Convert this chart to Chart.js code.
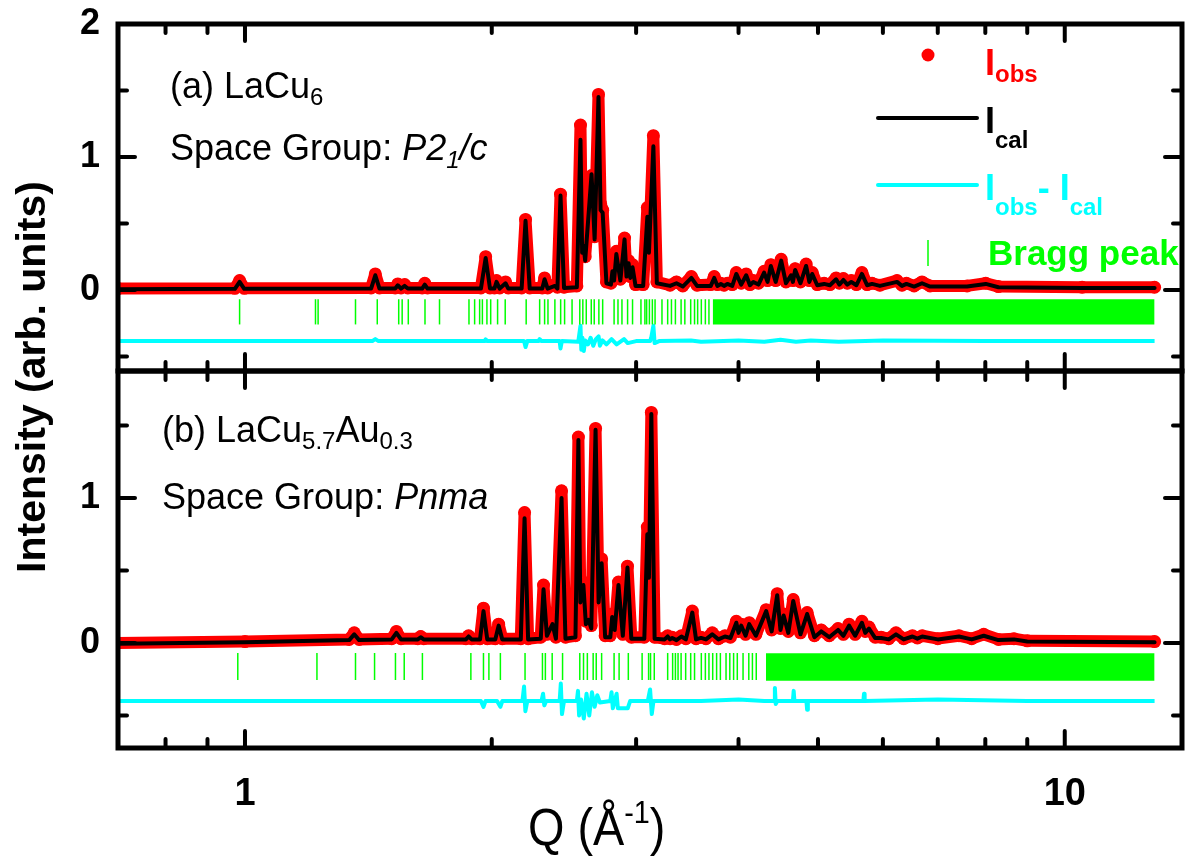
<!DOCTYPE html>
<html>
<head>
<meta charset="utf-8">
<script src="https://cdn.jsdelivr.net/npm/chart.js@4.4.1/dist/chart.umd.min.js"></script>
<style>
html, body { margin: 0; padding: 0; background: #fff; }
#wrap { position: relative; width: 1189px; height: 856px; }
canvas { position: absolute; left: 0; top: 0; }
</style>
</head>
<body>
<div id="wrap">
  <canvas id="G1" width="1189" height="856"></canvas>
  <canvas id="G2" width="1189" height="856"></canvas>
</div>
<script>
// profile points: [Q, Iobs, Ical]
var perfilA = [
  [0.70, 0.01, 0.005], [0.972, 0.012, 0.008], [0.985, 0.07, 0.06], [0.998, 0.012, 0.008],
  [1.425, 0.015, 0.01], [1.442, 0.12, 0.11], [1.459, 0.015, 0.01],
  [1.525, 0.015, 0.01], [1.536, 0.045, 0.035], [1.55, 0.015, 0.01], [1.566, 0.04, 0.03], [1.58, 0.015, 0.01],
  [1.645, 0.015, 0.01], [1.657, 0.05, 0.04], [1.67, 0.015, 0.01],
  [1.94, 0.015, 0.01], [1.966, 0.25, 0.24], [1.99, 0.015, 0.01],
  [2.015, 0.015, 0.01], [2.027, 0.07, 0.06], [2.045, 0.015, 0.01], [2.079, 0.06, 0.05], [2.095, 0.015, 0.01],
  [2.175, 0.015, 0.01], [2.199, 0.53, 0.52], [2.225, 0.015, 0.01],
  [2.305, 0.015, 0.01], [2.320, 0.09, 0.08], [2.34, 0.015, 0.01], [2.388, 0.04, 0.03], [2.405, 0.02, 0.01],
  [2.426, 0.72, 0.71], [2.45, 0.02, 0.015],
  [2.54, 0.03, 0.02], [2.566, 1.24, 1.13], [2.578, 0.3, 0.28], [2.589, 0.35, 0.33], [2.60, 0.25, 0.22],
  [2.647, 0.86, 0.87], [2.67, 0.4, 0.38], [2.699, 1.47, 1.45], [2.715, 0.65, 0.6], [2.731, 0.6, 0.58], [2.76, 0.06, 0.05],
  [2.795, 0.05, 0.04], [2.807, 0.15, 0.14], [2.82, 0.08, 0.07], [2.838, 0.29, 0.27], [2.87, 0.08, 0.07],
  [2.904, 0.39, 0.38], [2.92, 0.12, 0.1], [2.937, 0.22, 0.2], [2.952, 0.1, 0.09], [2.970, 0.19, 0.17], [2.995, 0.04, 0.03],
  [3.06, 0.04, 0.03], [3.096, 0.62, 0.55], [3.11, 0.3, 0.28], [3.149, 1.16, 1.08], [3.18, 0.06, 0.05],
  [3.30, 0.035, 0.03], [3.36, 0.06, 0.05], [3.42, 0.03, 0.025], [3.504, 0.10, 0.09], [3.56, 0.035, 0.03],
  [3.70, 0.04, 0.03], [3.736, 0.10, 0.09], [3.77, 0.04, 0.03], [3.806, 0.05, 0.045], [3.84, 0.035, 0.03], [3.876, 0.05, 0.045], [3.93, 0.04, 0.03],
  [3.975, 0.13, 0.12], [4.03, 0.05, 0.04], [4.087, 0.12, 0.11], [4.13, 0.04, 0.035], [4.17, 0.07, 0.06], [4.23, 0.05, 0.04],
  [4.298, 0.14, 0.13], [4.34, 0.07, 0.06], [4.38, 0.19, 0.18], [4.44, 0.07, 0.06], [4.509, 0.23, 0.22], [4.57, 0.06, 0.05],
  [4.636, 0.12, 0.11], [4.66, 0.07, 0.06], [4.69, 0.16, 0.15], [4.76, 0.06, 0.05], [4.836, 0.195, 0.18], [4.88, 0.07, 0.06], [4.92, 0.13, 0.12], [4.99, 0.04, 0.035],
  [5.087, 0.05, 0.045], [5.17, 0.04, 0.035], [5.261, 0.09, 0.08], [5.31, 0.05, 0.04], [5.37, 0.085, 0.075], [5.43, 0.05, 0.04], [5.49, 0.07, 0.06], [5.57, 0.04, 0.035],
  [5.657, 0.13, 0.12], [5.74, 0.04, 0.035], [5.82, 0.05, 0.045], [5.95, 0.035, 0.03],
  [6.243, 0.07, 0.06], [6.33, 0.035, 0.03], [6.41, 0.05, 0.045], [6.55, 0.03, 0.025], [6.697, 0.06, 0.05], [6.85, 0.03, 0.025],
  [7.6, 0.03, 0.025], [8.01, 0.05, 0.045], [8.3, 0.025, 0.02], [10.5, 0.02, 0.015], [12.87, 0.02, 0.015]
];
var perfilB = [
  [0.70, 0.0, -0.005], [1.0, 0.01, 0.005], [1.34, 0.025, 0.02], [1.359, 0.07, 0.06], [1.378, 0.025, 0.02],
  [1.51, 0.03, 0.025], [1.530, 0.08, 0.07], [1.55, 0.03, 0.025], [1.625, 0.03, 0.025], [1.638, 0.045, 0.04], [1.652, 0.03, 0.025],
  [1.86, 0.03, 0.025], [1.874, 0.05, 0.045], [1.89, 0.03, 0.025],
  [1.935, 0.03, 0.025], [1.954, 0.24, 0.22], [1.975, 0.03, 0.025],
  [2.02, 0.03, 0.025], [2.039, 0.13, 0.12], [2.06, 0.03, 0.025],
  [2.17, 0.03, 0.025], [2.193, 0.90, 0.86], [2.215, 0.03, 0.025],
  [2.295, 0.04, 0.03], [2.313, 0.40, 0.37], [2.335, 0.06, 0.05], [2.372, 0.15, 0.13], [2.395, 0.04, 0.03],
  [2.433, 1.05, 1.0], [2.46, 0.04, 0.03],
  [2.53, 0.05, 0.04], [2.551, 1.42, 1.40], [2.565, 0.3, 0.28], [2.587, 0.42, 0.40], [2.605, 0.15, 0.13], [2.625, 0.18, 0.16], [2.645, 0.12, 0.1],
  [2.677, 1.48, 1.47], [2.70, 0.3, 0.28], [2.723, 0.58, 0.55], [2.75, 0.05, 0.04],
  [2.79, 0.05, 0.04], [2.805, 0.2, 0.18], [2.825, 0.1, 0.09], [2.855, 0.42, 0.40], [2.89, 0.06, 0.05], [2.928, 0.53, 0.52], [2.96, 0.04, 0.03],
  [3.07, 0.04, 0.03], [3.096, 0.8, 0.75], [3.11, 0.5, 0.45], [3.131, 1.59, 1.58], [3.16, 0.04, 0.03],
  [3.25, 0.03, 0.025], [3.278, 0.05, 0.045], [3.30, 0.03, 0.025], [3.32, 0.04, 0.035], [3.36, 0.025, 0.02], [3.407, 0.05, 0.045], [3.45, 0.03, 0.025],
  [3.513, 0.22, 0.21], [3.55, 0.03, 0.025], [3.60, 0.04, 0.035], [3.65, 0.03, 0.025], [3.715, 0.07, 0.06], [3.78, 0.03, 0.025], [3.85, 0.05, 0.045], [3.91, 0.04, 0.035],
  [3.975, 0.15, 0.14], [4.0, 0.08, 0.07], [4.03, 0.13, 0.12], [4.08, 0.06, 0.05], [4.122, 0.14, 0.13], [4.2, 0.06, 0.05],
  [4.323, 0.23, 0.22], [4.39, 0.09, 0.08], [4.459, 0.34, 0.33], [4.50, 0.1, 0.09], [4.54, 0.2, 0.19], [4.60, 0.08, 0.07], [4.664, 0.30, 0.29], [4.76, 0.07, 0.06], [4.850, 0.21, 0.2], [4.95, 0.05, 0.04],
  [5.045, 0.09, 0.08], [5.16, 0.05, 0.04], [5.290, 0.10, 0.09], [5.37, 0.06, 0.05], [5.456, 0.13, 0.12], [5.55, 0.06, 0.05], [5.657, 0.15, 0.14], [5.71, 0.08, 0.07], [5.77, 0.11, 0.1], [5.87, 0.04, 0.035], [5.97, 0.04, 0.035],
  [6.1, 0.03, 0.025], [6.225, 0.07, 0.06], [6.36, 0.03, 0.025], [6.52, 0.05, 0.045], [6.61, 0.035, 0.03], [6.70, 0.05, 0.045], [7.0, 0.03, 0.025],
  [7.43, 0.05, 0.045], [7.7, 0.03, 0.025], [7.965, 0.06, 0.05], [8.3, 0.025, 0.02], [8.67, 0.03, 0.025], [9.0, 0.015, 0.01], [12.87, 0.01, 0.005]
];

// Iobs - Ical, already shifted down as plotted: [Q, value]
var difA = [
  [0.70, -0.385], [1.43, -0.385], [1.442, -0.37], [1.455, -0.385],
  [1.96, -0.385], [1.966, -0.372], [1.975, -0.385],
  [2.19, -0.385], [2.199, -0.43], [2.21, -0.385], [2.28, -0.385], [2.288, -0.37], [2.30, -0.385],
  [2.42, -0.385], [2.426, -0.44], [2.435, -0.385],
  [2.55, -0.39], [2.566, -0.27], [2.572, -0.45], [2.58, -0.36], [2.59, -0.46], [2.60, -0.38], [2.62, -0.41], [2.64, -0.36],
  [2.66, -0.42], [2.68, -0.37], [2.70, -0.35], [2.71, -0.42], [2.73, -0.38], [2.76, -0.41], [2.80, -0.37], [2.84, -0.41],
  [2.90, -0.37], [2.93, -0.40], [3.0, -0.385], [3.12, -0.385], [3.13, -0.36], [3.149, -0.27], [3.16, -0.40], [3.2, -0.385],
  [3.5, -0.38], [3.6, -0.39], [4.0, -0.38], [4.3, -0.39], [4.5, -0.375], [4.7, -0.39], [4.9, -0.38], [5.3, -0.39],
  [6.0, -0.38], [8.0, -0.385], [12.87, -0.385]
];
var difB = [
  [0.70, -0.40], [1.94, -0.40], [1.954, -0.44], [1.965, -0.40], [2.03, -0.40], [2.049, -0.44], [2.06, -0.40],
  [2.18, -0.40], [2.19, -0.30], [2.198, -0.47], [2.21, -0.40],
  [2.30, -0.40], [2.31, -0.35], [2.318, -0.43], [2.33, -0.40],
  [2.42, -0.40], [2.428, -0.28], [2.436, -0.49], [2.45, -0.40],
  [2.54, -0.40], [2.548, -0.33], [2.556, -0.50], [2.57, -0.39], [2.59, -0.52], [2.61, -0.35], [2.63, -0.50], [2.65, -0.34],
  [2.67, -0.44], [2.69, -0.36], [2.71, -0.41],
  [2.79, -0.40], [2.80, -0.34], [2.81, -0.45], [2.84, -0.35], [2.85, -0.45], [2.93, -0.45], [2.95, -0.40],
  [3.10, -0.40], [3.12, -0.32], [3.135, -0.49], [3.15, -0.40],
  [3.6, -0.40], [4.0, -0.39], [4.3, -0.40], [4.42, -0.40], [4.43, -0.31], [4.44, -0.42], [4.46, -0.40],
  [4.66, -0.40], [4.67, -0.33], [4.68, -0.40], [4.84, -0.40], [4.85, -0.46], [4.86, -0.40],
  [5.68, -0.40], [5.69, -0.35], [5.70, -0.40], [7.0, -0.39], [9.0, -0.40], [12.87, -0.40]
];

// Bragg reflections (Q) and the range where they merge into a solid band
var braggA = [0.985, 1.219, 1.228, 1.364, 1.450, 1.540, 1.555, 1.582, 1.658, 1.727, 1.876, 1.906, 1.933, 1.948, 1.973,
  1.994, 2.033, 2.077, 2.203, 2.288, 2.320, 2.342, 2.388, 2.427, 2.454, 2.506, 2.561, 2.583, 2.608, 2.645, 2.667, 2.702,
  2.731, 2.820, 2.851, 2.883, 2.929, 2.970, 3.041, 3.075, 3.090, 3.114, 3.140, 3.164, 3.226, 3.278, 3.313, 3.350, 3.404,
  3.440, 3.497, 3.535, 3.566, 3.603, 3.644, 3.681];
var bandaA = [3.72, 12.87];
var braggB = [0.980, 1.224, 1.364, 1.439, 1.526, 1.564, 1.646, 1.886, 1.954, 1.984, 2.049, 2.196, 2.306, 2.325, 2.370,
  2.440, 2.561, 2.588, 2.616, 2.659, 2.682, 2.723, 2.820, 2.860, 2.935, 3.051, 3.107, 3.124, 3.157, 3.278, 3.324, 3.350,
  3.375, 3.404, 3.448, 3.497, 3.535, 3.603, 3.644, 3.681, 3.720, 3.761, 3.801, 3.862, 3.903, 3.945, 3.986, 4.051, 4.117,
  4.159, 4.204];
var bandaB = [4.32, 12.87];

var xEtiquetas = [1, 10];
var xMayores = [1, 10];
var xMenores = [0.8, 0.9, 2, 3, 4, 5, 6, 7, 8, 9];
var yEtiquetasA = [0, 1, 2];
var yEtiquetasB = [0, 1];
var yMenores = [-0.5, 0.5, 1.5];

const ROJO = '#ff0000', CIAN = '#00ffff', VERDE = '#00ff00';
const SANS = '"Liberation Sans", Arial, sans-serif';

function datasets(perfil, dif, bragg, banda, ticY, ticR) {
    return [
        { label: 'Ical', data: perfil.map(p => ({x: p[0], y: p[2]})), borderColor: '#000', borderWidth: 4,
          pointRadius: 0, borderJoinStyle: 'round', borderCapStyle: 'round', tension: 0 },
        { label: 'Iobs', data: perfil.map(p => ({x: p[0], y: p[1]})), borderColor: ROJO, borderWidth: 12,
          pointRadius: 6.5, pointBackgroundColor: ROJO, pointBorderWidth: 0, borderJoinStyle: 'round', borderCapStyle: 'round', tension: 0 },
        { label: 'Bragg', data: bragg.map(q => ({x: q, y: ticY})), showLine: false, pointStyle: 'line',
          rotation: 90, pointRadius: ticR, pointBorderColor: VERDE, pointBorderWidth: 1.5 },
        { label: 'banda', data: banda.map(q => ({x: q, y: -0.07})), borderWidth: 0, pointRadius: 0,
          backgroundColor: VERDE, fill: {value: -0.26} },
        { label: 'dif', data: dif.map(p => ({x: p[0], y: p[1]})), borderColor: CIAN, borderWidth: 4,
          pointRadius: 0, borderJoinStyle: 'round', tension: 0 }
    ];
}

function marco(chart, yMay) {
    const ctx = chart.ctx, a = chart.chartArea, x = chart.scales.x, y = chart.scales.y;
    ctx.save();
    ctx.strokeStyle = '#000';
    ctx.lineCap = 'round';
    ctx.lineWidth = 4;
    const raya = (x1, y1, x2, y2) => { ctx.beginPath(); ctx.moveTo(x1, y1); ctx.lineTo(x2, y2); ctx.stroke(); };
    xMayores.forEach(v => { const p = x.getPixelForValue(v); raya(p, a.top, p, a.top + 17); raya(p, a.bottom, p, a.bottom - 17); });
    xMenores.forEach(v => { const p = x.getPixelForValue(v); raya(p, a.top, p, a.top + 9); raya(p, a.bottom, p, a.bottom - 9); });
    yMay.forEach(v => { const p = y.getPixelForValue(v); raya(a.left, p, a.left + 17, p); raya(a.right, p, a.right - 17, p); });
    yMenores.forEach(v => { const p = y.getPixelForValue(v); raya(a.left, p, a.left + 9, p); raya(a.right, p, a.right - 9, p); });
    ctx.lineCap = 'butt';
    ctx.lineWidth = 5;
    ctx.strokeRect(a.left, a.top, a.right - a.left, a.bottom - a.top);
    ctx.restore();
}

// text pieces with sub/superscripts: [text, font, dy, color]
function tramos(ctx, x, y, partes) {
    partes.forEach(p => {
        ctx.font = p[1];
        ctx.fillStyle = p[3] || '#000';
        ctx.fillText(p[0], x, y + p[2]);
        x += ctx.measureText(p[0]).width;
    });
}

const F = '36px ' + SANS, FS = '24px ' + SANS, FI = 'italic 36px ' + SANS, FIS = 'italic 24px ' + SANS;
const FB = 'bold 36px ' + SANS, FBS = 'bold 24px ' + SANS;

var textosA = {
    id: 'textosA',
    afterDraw(chart) {
        marco(chart, yEtiquetasA);
        const ctx = chart.ctx;
        ctx.save();
        ctx.textBaseline = 'alphabetic';
        tramos(ctx, 170, 98, [['(a) LaCu', F, 0], ['6', FS, 7]]);
        tramos(ctx, 170, 160, [['Space Group: ', F, 0], ['P2', FI, 0], ['1', FIS, 8], ['/c', FI, 0]]);
        // legend
        ctx.fillStyle = ROJO;
        ctx.beginPath(); ctx.arc(928, 55, 6.5, 0, Math.PI * 2); ctx.fill();
        tramos(ctx, 985, 75, [['I', FB, 0, ROJO], ['obs', FBS, 7, ROJO]]);
        ctx.lineWidth = 4; ctx.lineCap = 'round';
        ctx.strokeStyle = '#000';
        ctx.beginPath(); ctx.moveTo(878, 118); ctx.lineTo(977, 118); ctx.stroke();
        tramos(ctx, 985, 133, [['I', FB, 0, '#000'], ['cal', FBS, 15, '#000']]);
        ctx.strokeStyle = CIAN;
        ctx.beginPath(); ctx.moveTo(878, 185); ctx.lineTo(977, 185); ctx.stroke();
        tramos(ctx, 985, 200, [['I', FB, 0, CIAN], ['obs', FBS, 15, CIAN], ['-', FB, 0, CIAN], [' I', FB, 0, CIAN], ['cal', FBS, 15, CIAN]]);
        ctx.strokeStyle = VERDE; ctx.lineWidth = 1.5; ctx.lineCap = 'butt';
        ctx.beginPath(); ctx.moveTo(928, 240); ctx.lineTo(928, 266); ctx.stroke();
        tramos(ctx, 988, 265, [['Bragg peak', 'bold 35px ' + SANS, 0, VERDE]]);
        // y title spanning both panels
        ctx.translate(45, 377);
        ctx.rotate(-Math.PI / 2);
        ctx.textAlign = 'center';
        ctx.fillStyle = '#000';
        ctx.font = 'bold 41px ' + SANS;
        ctx.fillText('Intensity (arb. units)', 0, 0);
        ctx.restore();
    }
};

var textosB = {
    id: 'textosB',
    afterDraw(chart) {
        marco(chart, yEtiquetasB);
        const ctx = chart.ctx;
        ctx.save();
        ctx.textBaseline = 'alphabetic';
        tramos(ctx, 162, 442, [['(b) LaCu', F, 0], ['5.7', FS, 7], ['Au', F, 0], ['0.3', FS, 7]]);
        tramos(ctx, 162, 509, [['Space Group: ', F, 0], ['Pnma', FI, 0]]);
        // x title, slightly condensed like the original
        ctx.translate(528, 845);
        ctx.scale(0.9, 1);
        tramos(ctx, 0, 0, [['Q (Å', '52px ' + SANS, 0], ['-1', '32px ' + SANS, -22], [')', '52px ' + SANS, 0]]);
        ctx.restore();
    }
};

function ejeY(min, max, etiquetas) {
    return {
        type: 'linear', min: min, max: max,
        grid: {display: false, drawTicks: false}, border: {display: false},
        afterBuildTicks: s => { s.ticks = etiquetas.map(v => ({value: v})); },
        afterFit: s => { s.width = 118; s.paddingTop = 0; s.paddingBottom = 0; },
        ticks: {color: '#000', padding: 18, font: {family: SANS, size: 36, weight: 'bold'}}
    };
}

var comunes = {
    responsive: false, animation: false, devicePixelRatio: 1, events: [],
    plugins: {legend: {display: false}, tooltip: {enabled: false}}
};

var grafico_A = new Chart(document.getElementById('G1').getContext('2d'), {
    type: 'line',
    data: {datasets: datasets(perfilA, difA, braggA, bandaA, -0.165, 12.6)},
    options: Object.assign({}, comunes, {
        layout: {autoPadding: false, padding: {left: 0, top: 24, right: 7, bottom: 856 - 371}},
        scales: {
            x: {type: 'logarithmic', min: 0.7, max: 13.9, display: false},
            y: ejeY(-0.61, 2, yEtiquetasA)
        }
    }),
    plugins: [textosA]
});

var grafico_B = new Chart(document.getElementById('G2').getContext('2d'), {
    type: 'line',
    data: {datasets: datasets(perfilB, difB, braggB, bandaB, -0.162, 13.5)},
    options: Object.assign({}, comunes, {
        layout: {autoPadding: false, padding: {left: 0, top: 371, right: 7, bottom: 0}},
        scales: {
            x: {
                type: 'logarithmic', min: 0.7, max: 13.9,
                grid: {display: false, drawTicks: false}, border: {display: false},
                afterBuildTicks: s => { s.ticks = xEtiquetas.map(v => ({value: v})); },
                afterFit: s => { s.height = 856 - 748; s.paddingLeft = 0; s.paddingRight = 0; },
                ticks: {color: '#000', padding: 24, autoSkip: false, maxRotation: 0,
                        font: {family: SANS, size: 38, weight: 'bold'}, callback: v => String(v)}
            },
            y: ejeY(-0.724, 1.876, yEtiquetasB)
        }
    }),
    plugins: [textosB]
});
</script>
</body>
</html>
